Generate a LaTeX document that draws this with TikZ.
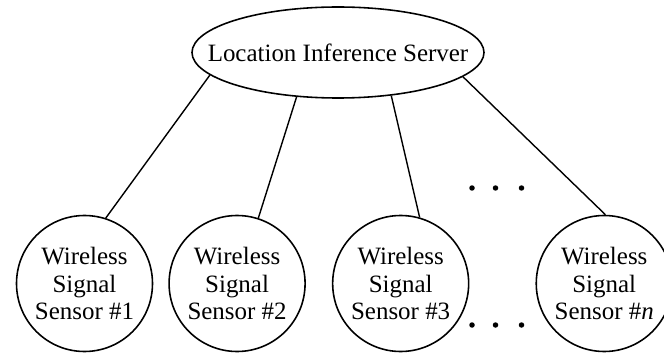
\documentclass[tikz,border=0pt]{standalone}
\usepackage{fontspec}
\setmainfont{Liberation Serif}
\usepackage{tikz}
\usetikzlibrary{positioning,shapes}

\begin{document}
\begin{tikzpicture}[
  server/.style={ellipse, draw, line width=0.9pt, font={\fontsize{14.2}{15.6}\selectfont}, minimum width=5.84cm, minimum height=1.82cm, inner xsep=-1cm, inner ysep=0pt},
  sensor/.style={circle, draw, line width=0.9pt, align=center, font={\fontsize{14.2}{15.6}\selectfont}, minimum size=2.72cm, inner sep=0pt},
  link/.style={line width=0.8pt}
]
  \useasboundingbox (0,0) rectangle (13.28,7.04);

  % Server
  \node[server] (server) at (6.76,5.99) {Location Inference Server};

  % Sensors
  \node[sensor] (sensor1) at (1.69,1.37) {Wireless\\Signal\\Sensor \#1};
  \node[sensor, right=0.3cm of sensor1] (sensor2) {Wireless\\Signal\\Sensor \#2};
  \node[sensor, right=0.52cm of sensor2] (sensor3) {Wireless\\Signal\\Sensor \#3};
  \node[sensor, right=1.32cm of sensor3] (sensorn) {Wireless\\Signal\\Sensor \#\textit{n}};

  % Links
  \draw[link] (server.190) -- (sensor1.72);
  \draw[link] (server.227) -- (sensor2.72);
  \draw[link] (server.321) -- (sensor3.74);
  \draw[link] (server.349) -- (sensorn.89);

  % Dots
  \foreach \x in {9.44,9.91,10.43} {
    \fill (\x,3.28) circle (0.055);
    \fill (\x,0.54) circle (0.055);
  }
\end{tikzpicture}
\end{document}
